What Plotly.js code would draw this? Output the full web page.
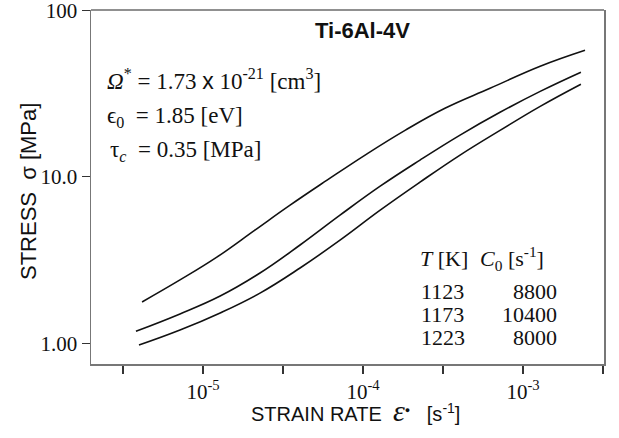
<!DOCTYPE html>
<html>
<head>
<meta charset="utf-8">
<script src="https://cdn.plot.ly/plotly-3.0.1.min.js"></script>
<style>html,body{margin:0;padding:0;background:#fff;}#chart{width:619px;height:438px;}</style>
</head>
<body>
<div id="chart"></div>
<script>
// Data (strain rate [1/s], stress [MPa])
const rate1123 = [4.16e-6, 7.18e-6, 1.22e-5, 2.11e-5, 3.50e-5, 5.96e-5, 1.03e-4, 1.83e-4, 3.25e-4, 6.22e-4, 1.28e-3, 2.44e-3];
const stress1123 = [1.77, 2.40, 3.29, 4.78, 6.75, 9.54, 13.5, 19.0, 25.8, 34.0, 46.1, 57.5];
const rate1173 = [3.81e-6, 7.18e-6, 1.28e-5, 2.27e-5, 4.04e-5, 7.18e-5, 1.28e-4, 2.27e-4, 4.04e-4, 7.18e-4, 1.28e-3, 2.30e-3];
const stress1173 = [1.18, 1.50, 1.92, 2.64, 3.89, 5.88, 8.78, 12.6, 17.8, 24.4, 32.6, 42.5];
const rate1223 = [3.98e-6, 7.18e-6, 1.28e-5, 2.27e-5, 4.04e-5, 7.18e-5, 1.28e-4, 2.27e-4, 4.04e-4, 7.18e-4, 1.28e-3, 2.30e-3];
const stress1223 = [0.975, 1.20, 1.52, 2.00, 2.83, 4.16, 6.30, 9.28, 13.5, 19.0, 26.5, 36.0];

const temps = [1123, 1173, 1223];
const c0vals = [8800, 10400, 8000];

const xTickVals = [Math.pow(10,-5.5), 1e-5, Math.pow(10,-4.5), 1e-4, Math.pow(10,-3.5), 1e-3, Math.pow(10,-2.5)];
const xTickText = ['', '10<sup>-5</sup>', '', '10<sup>-4</sup>', '', '10<sup>-3</sup>', ''];
const yTickVals = [1, 10, 100];
const yTickText = ['1.00', '10.0', '100'];

const W = 619, H = 438, ML = 91, MR = 15, MT = 10, MB = 74;
const PW = W - ML - MR, PH = H - MT - MB;
const px = x => (x - ML) / PW;
const py = y => (H - MB - y) / PH;

const lineStyle = {color: '#111', width: 1.6, shape: 'spline', smoothing: 1.2};
const traces = [
  {x: rate1123, y: stress1123, mode: 'lines', line: lineStyle, name: String(temps[0])},
  {x: rate1173, y: stress1173, mode: 'lines', line: lineStyle, name: String(temps[1])},
  {x: rate1223, y: stress1223, mode: 'lines', line: lineStyle, name: String(temps[2])}
];

const serif = 'Liberation Serif, Times New Roman, serif';
const sans = 'Liberation Sans, Arial, sans-serif';

const ann = [];
function add(text, x, y, opts) {
  ann.push(Object.assign({text: text, xref: 'paper', yref: 'paper', x: px(x), y: py(y),
    showarrow: false, xanchor: 'left', yanchor: 'middle',
    font: {family: serif, size: 22, color: '#111'}}, opts || {}));
}
add('Ti-6Al-4V', 362, 30, {xanchor: 'center', font: {family: sans, size: 22, color: '#111', weight: 'bold'}});
add('<i>Ω</i><sup>*</sup> = 1.73 <span style="font-family:Liberation Sans">x</span> 10<sup>-21</sup> [cm<sup>3</sup>]', 105, 79, {font: {family: serif, size: 23, color: '#111'}});
add('ϵ<sub>0</sub>  = 1.85 [eV]', 105, 117, {font: {family: serif, size: 23, color: '#111'}});
add('τ<sub><i>c</i></sub>  = 0.35 [MPa]', 108, 151, {font: {family: serif, size: 23, color: '#111'}});
add('<i>T</i> [K]', 418, 258);
add('<i>C</i><sub>0</sub> [s<sup>-1</sup>]', 478, 258);
const rowY = [291, 314, 337];
for (let i = 0; i < temps.length; i++) {
  add(String(temps[i]), 419, rowY[i]);
  add(String(c0vals[i]), 559, rowY[i], {xanchor: 'right'});
}
// axis titles placed as annotations for exact position
add('STRAIN RATE&nbsp;&nbsp;<span style="font-family:Liberation Serif;font-size:30px"><i>ε</i></span><sup><span style="font-size:9px">●</span></sup>&nbsp;&nbsp;&nbsp;[s<sup>-1</sup>]',
  355, 410, {xanchor: 'center', font: {family: sans, size: 20, color: '#111'}});
add('STRESS&nbsp;&nbsp;σ [MPa]', 28, 192, {xanchor: 'center', textangle: -90, font: {family: sans, size: 22, color: '#111'}});

const layout = {
  width: W, height: H,
  margin: {l: ML, r: MR, t: MT, b: MB, pad: 0},
  paper_bgcolor: '#fff', plot_bgcolor: '#fff',
  showlegend: false,
  xaxis: {
    type: 'log', range: [-5.7, -2.494], showgrid: false, zeroline: false,
    showline: true, linecolor: '#777', linewidth: 1.5, mirror: false,
    tickmode: 'array', tickvals: xTickVals, ticktext: xTickText,
    ticks: 'outside', ticklen: 8, tickwidth: 1.2, tickcolor: '#333',
    tickfont: {family: serif, size: 21, color: '#111'}
  },
  yaxis: {
    type: 'log', range: [-0.125, 2.002], showgrid: false, zeroline: false,
    showline: true, linecolor: '#777', linewidth: 1.5, mirror: true,
    tickmode: 'array', tickvals: yTickVals, ticktext: yTickText,
    ticks: 'outside', ticklen: 8, tickwidth: 1.2, tickcolor: '#333',
    ticklabeloverflow: 'allow',
    tickfont: {family: serif, size: 21, color: '#111'}
  },
  shapes: [{type: 'line', xref: 'paper', yref: 'paper', x0: 0, x1: 1, y0: 1, y1: 1,
    line: {color: '#222', width: 1.2}}],
  annotations: ann
};

Plotly.newPlot('chart', traces, layout, {displayModeBar: false, staticPlot: true});
</script>
</body>
</html>
